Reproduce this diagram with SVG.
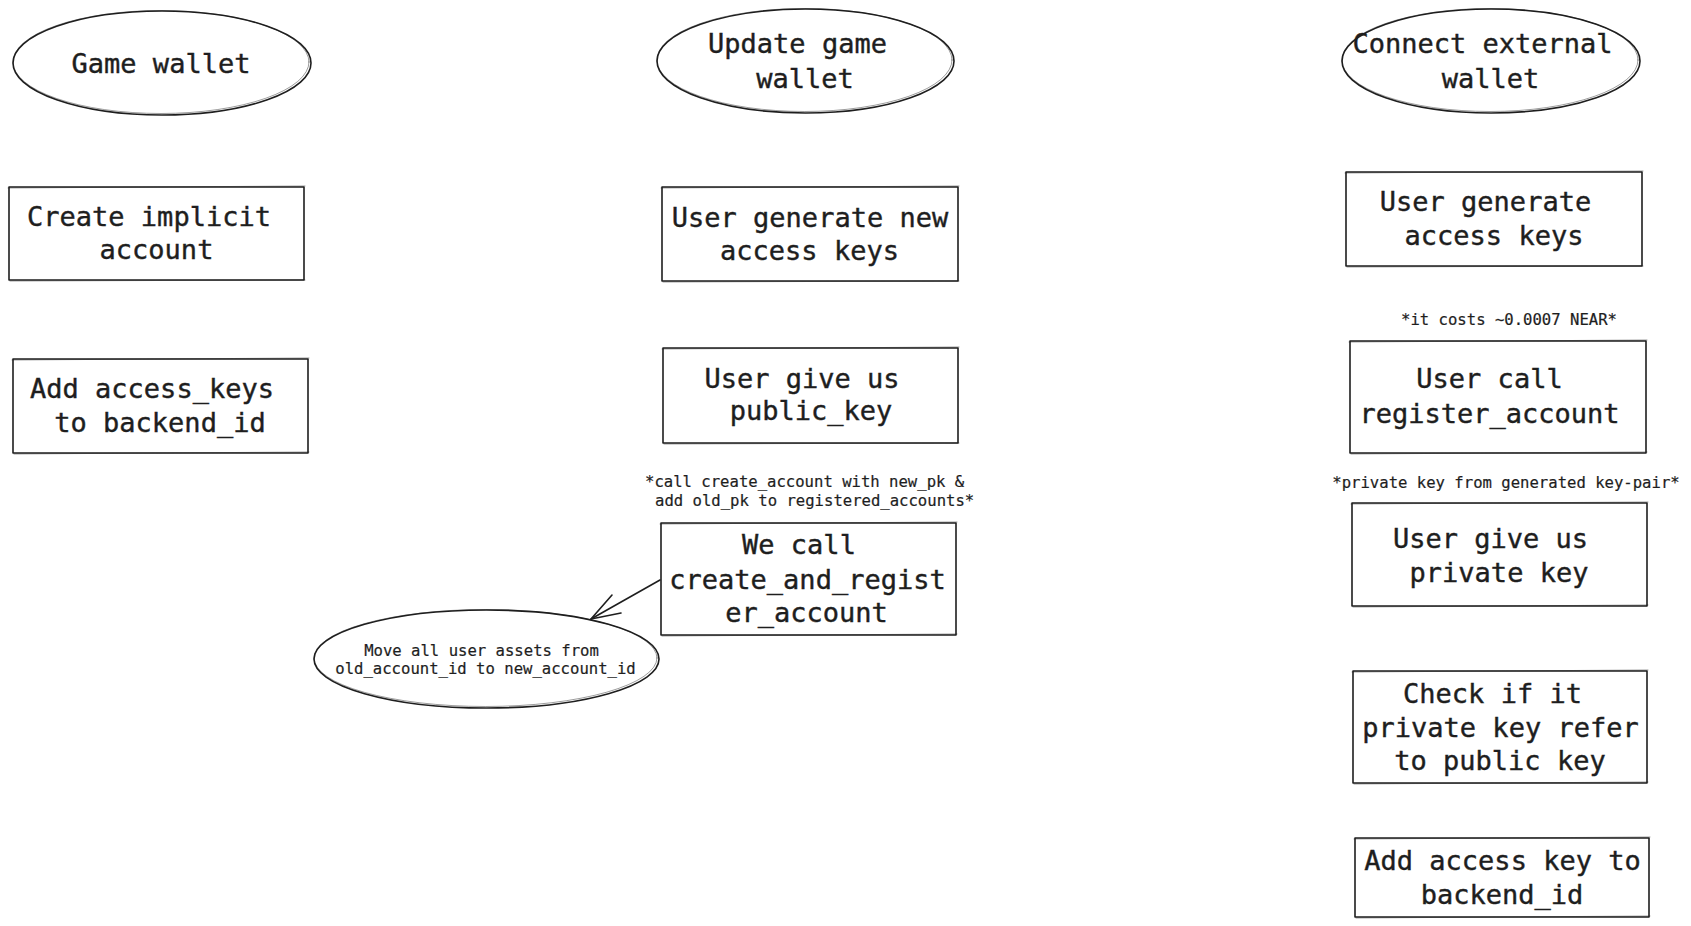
<svg xmlns="http://www.w3.org/2000/svg" width="1691" height="926" viewBox="0 0 1691 926">
  <style>
    .bg { fill: #ffffff; }
    .shape { fill: none; stroke: #1e1e1e; stroke-width: 1.6; stroke-linejoin: round; stroke-linecap: round; }
    .sketch { fill: none; stroke: #1e1e1e; stroke-width: 0.8; stroke-opacity: 0.55; stroke-linecap: round; }
    .big { font-family: "DejaVu Sans Mono", "Liberation Mono", monospace; font-size: 27px; fill: #1e1e1e; stroke: #1e1e1e; stroke-width: 0.4; text-anchor: middle; }
    .small { font-family: "DejaVu Sans Mono", "Liberation Mono", monospace; font-size: 15.6px; fill: #1e1e1e; stroke: #1e1e1e; stroke-width: 0.2; }
    .mid { text-anchor: middle; }
    .conn { fill: none; stroke: #1e1e1e; stroke-width: 1.6; stroke-linecap: round; stroke-linejoin: round; }
  </style>
  <rect class="bg" x="0" y="0" width="1691" height="926"/>

  <!-- Column 1 -->
  <g id="game-wallet">
    <ellipse class="shape" cx="162" cy="63" rx="149" ry="52"/>
    <ellipse class="sketch" cx="161" cy="62" rx="148" ry="51.5"/>
    <text class="big" x="161" y="73">Game wallet</text>
  </g>
  <g id="create-implicit-account">
    <rect class="shape" x="9" y="187" width="295" height="93"/>
    <path class="sketch" d="M8 188 L305 186 M10 281 L305 280"/>
    <text class="big" x="149" y="226">Create implicit</text>
    <text class="big" x="156.5" y="259">account</text>
  </g>
  <g id="add-access-keys">
    <rect class="shape" x="13" y="359" width="295" height="94"/>
    <path class="sketch" d="M12 360 L309 358 M14 454 L309 452"/>
    <text class="big" x="152" y="398">Add access_keys</text>
    <text class="big" x="160" y="432">to backend_id</text>
  </g>

  <!-- Column 2 -->
  <g id="update-game-wallet">
    <ellipse class="shape" cx="805.5" cy="61" rx="148.5" ry="52"/>
    <ellipse class="sketch" cx="804.5" cy="60" rx="147.5" ry="51.5"/>
    <text class="big" x="797.5" y="53">Update game</text>
    <text class="big" x="805" y="88">wallet</text>
  </g>
  <g id="user-generate-new-keys">
    <rect class="shape" x="662" y="187" width="296" height="94"/>
    <path class="sketch" d="M661 188 L959 186 M663 282 L959 281"/>
    <text class="big" x="810" y="227">User generate new</text>
    <text class="big" x="809.5" y="260">access keys</text>
  </g>
  <g id="user-give-public-key">
    <rect class="shape" x="663" y="348" width="295" height="95"/>
    <path class="sketch" d="M662 349 L959 347 M664 444 L959 443"/>
    <text class="big" x="802" y="388">User give us</text>
    <text class="big" x="811" y="420">public_key</text>
  </g>
  <g id="note-create-account">
    <text class="small" x="645" y="487">*call create_account with new_pk &amp;</text>
    <text class="small" x="655" y="506">add old_pk to registered_accounts*</text>
  </g>
  <g id="we-call-create-and-register">
    <rect class="shape" x="661" y="523" width="295" height="112"/>
    <path class="sketch" d="M660 524 L957 522 M662 636 L957 634"/>
    <text class="big" x="799" y="554">We call</text>
    <text class="big" x="807.5" y="589">create_and_regist</text>
    <text class="big" x="806.5" y="622">er_account</text>
  </g>
  <g id="move-assets">
    <ellipse class="shape" cx="486.5" cy="659" rx="172.5" ry="49"/>
    <ellipse class="sketch" cx="485.5" cy="658" rx="171.5" ry="48.5"/>
    <text class="small mid" x="481.5" y="656">Move all user assets from</text>
    <text class="small mid" x="485.5" y="674">old_account_id to new_account_id</text>
  </g>

  <!-- Column 3 -->
  <g id="connect-external-wallet">
    <ellipse class="shape" cx="1491" cy="61" rx="149" ry="52"/>
    <ellipse class="sketch" cx="1490" cy="60" rx="148" ry="51.5"/>
    <text class="big" x="1482.5" y="53">Connect external</text>
    <text class="big" x="1490.5" y="88">wallet</text>
  </g>
  <g id="user-generate-access-keys">
    <rect class="shape" x="1346" y="172" width="296" height="94"/>
    <path class="sketch" d="M1345 173 L1643 171 M1347 267 L1643 266"/>
    <text class="big" x="1485.5" y="211">User generate</text>
    <text class="big" x="1494" y="245">access keys</text>
  </g>
  <g id="note-cost">
    <text class="small mid" x="1509" y="325">*it costs ~0.0007 NEAR*</text>
  </g>
  <g id="user-call-register-account">
    <rect class="shape" x="1350" y="341" width="296" height="112"/>
    <path class="sketch" d="M1349 342 L1647 340 M1351 454 L1647 452"/>
    <text class="big" x="1489.5" y="388">User call</text>
    <text class="big" x="1489.5" y="423">register_account</text>
  </g>
  <g id="note-private-key">
    <text class="small mid" x="1506" y="488">*private key from generated key-pair*</text>
  </g>
  <g id="user-give-private-key">
    <rect class="shape" x="1352" y="503" width="295" height="103"/>
    <path class="sketch" d="M1351 504 L1648 502 M1353 607 L1648 605"/>
    <text class="big" x="1490.5" y="548">User give us</text>
    <text class="big" x="1499" y="582">private key</text>
  </g>
  <g id="check-private-key">
    <rect class="shape" x="1353" y="671" width="294" height="112"/>
    <path class="sketch" d="M1352 672 L1648 670 M1354 784 L1648 782"/>
    <text class="big" x="1492.5" y="703">Check if it</text>
    <text class="big" x="1500.5" y="737">private key refer</text>
    <text class="big" x="1500" y="770">to public key</text>
  </g>
  <g id="add-access-key-backend">
    <rect class="shape" x="1355" y="838" width="294" height="79"/>
    <path class="sketch" d="M1354 839 L1650 837 M1356 918 L1650 916"/>
    <text class="big" x="1502.5" y="870">Add access key to</text>
    <text class="big" x="1502" y="904">backend_id</text>
  </g>

  <!-- Connectors -->
  <g id="connectors">
    <path class="conn" d="M660 580 L591 619"/>
    <path class="conn" d="M612 595 L591 619 L621 613"/>
  </g>
</svg>
